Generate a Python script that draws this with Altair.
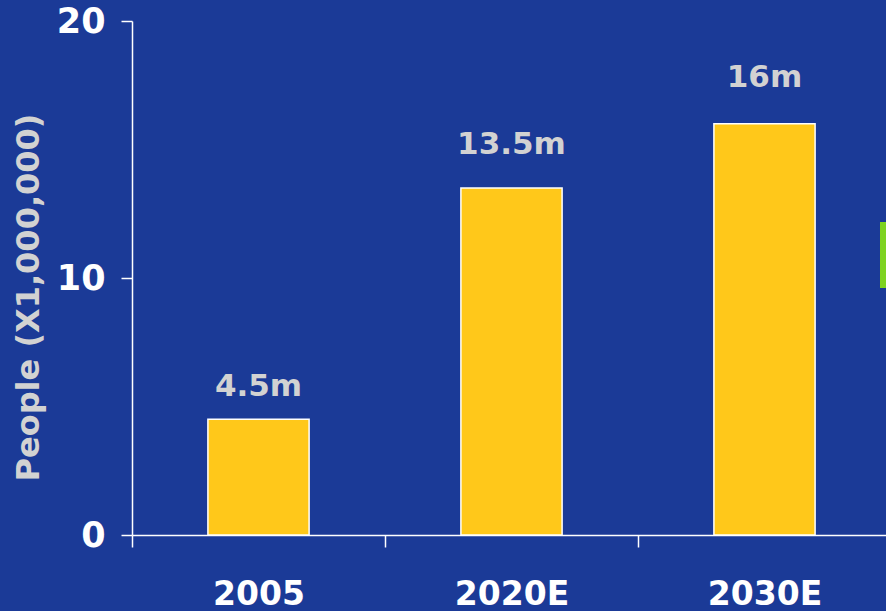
import altair as alt
import pandas as pd

years = ["2005", "2020E", "2030E"]
people = [4.5, 13.5, 16]
labels = ["4.5m", "13.5m", "16m"]
y_ticks = [0, 10, 20]

df = pd.DataFrame({"year": years, "people": people, "label": labels})

BG = "#1b3a97"
FONT = "DejaVu Sans"

x_scale = alt.Scale(paddingInner=0, paddingOuter=0, range=[0, 759])

x_enc = alt.X(
    "year:N",
    sort=years,
    title=None,
    scale=x_scale,
    axis=alt.Axis(
        labelAngle=0,
        labelFont=FONT,
        labelFontSize=33,
        labelFontWeight="bold",
        labelColor="white",
        labelPadding=31,
        tickBand="extent",
        tickSize=12,
        tickColor="white",
        tickWidth=1.5,
        domainColor="white",
        domainWidth=1.5,
    ),
)

y_scale = alt.Scale(domain=[0, 20], nice=False)

bars = alt.Chart(df).mark_bar(
    color="#ffc81a", stroke="white", strokeWidth=1.5,
    width=alt.RelativeBandSize(0.4),
).encode(
    x=x_enc,
    y=alt.Y(
        "people:Q",
        scale=y_scale,
        title="People (X1,000,000)",
        axis=alt.Axis(
            values=y_ticks,
            grid=False,
            labelFont=FONT,
            labelFontSize=35,
            labelFontWeight="bold",
            labelColor="white",
            labelPadding=16,
            tickSize=11,
            tickColor="white",
            tickWidth=1.5,
            domainColor="white",
            domainWidth=1.5,
            titleFont=FONT,
            titleFontSize=32,
            titleFontWeight="bold",
            titleColor="#d2d2d2",
            titleAngle=-90,
            titleAlign="center",
            titleBaseline="middle",
            titleX=-104,
            titleY=276,
        ),
    ),
)

text = alt.Chart(df).transform_calculate(
    ly="datum.people * 1.047 + 0.69"
).mark_text(
    font=FONT, fontSize=31, fontWeight="bold", color="#d2d2d2",
    baseline="alphabetic", align="center",
).encode(
    x=alt.X("year:N", sort=years, scale=x_scale),
    y=alt.Y("ly:Q", scale=y_scale),
    text="label:N",
)

green = alt.Chart(alt.Data(values=[{"a": 1}])).mark_rect(color="#7ed321").encode(
    x=alt.value(748), x2=alt.value(760), y=alt.value(201), y2=alt.value(267)
)

chart = alt.layer(bars, text, green).properties(
    width=754,
    height=514,
    background=BG,
    autosize=alt.AutoSizeParams(type="none"),
    padding={"left": 132, "top": 21, "right": 0, "bottom": 76},
).configure_view(stroke=None)

chart.save("out.html", embed_options={"renderer": "svg", "actions": False})
